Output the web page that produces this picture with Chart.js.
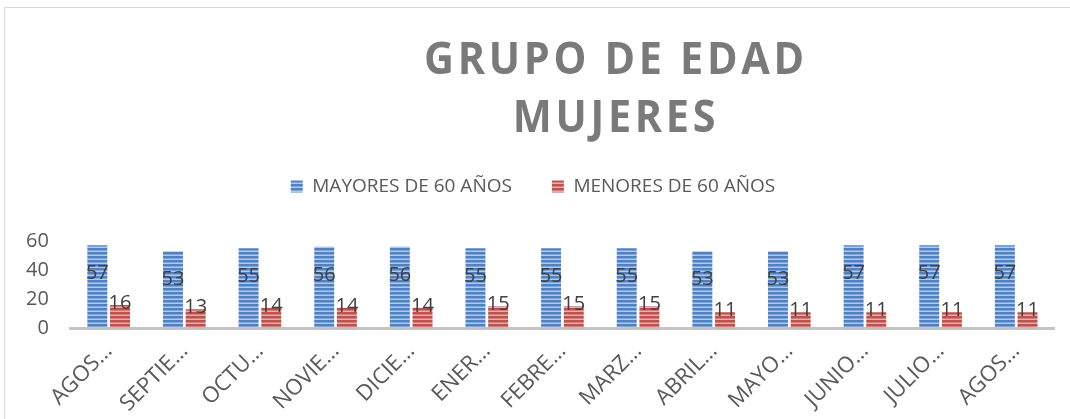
<!DOCTYPE html>
<html>
<head>
<meta charset="utf-8">
<script src="https://cdn.jsdelivr.net/npm/chart.js@4.4.1/dist/chart.umd.min.js"></script>
<style>
  html, body { margin: 0; padding: 0; background: #fff; overflow: hidden; }
  #wrap { position: relative; width: 1070px; height: 419px; }
  #marco { position: absolute; left: 4px; top: 7px; width: 1100px; height: 450px; border: 1px solid #d9d9d9; pointer-events: none; }
</style>
</head>
<body>
<div id="wrap"><canvas id="edadChart" width="1070" height="419"></canvas><div id="marco"></div></div>
<script>
var meses = ['AGOS…', 'SEPTIE…', 'OCTU…', 'NOVIE…', 'DICIE…', 'ENER…', 'FEBRE…', 'MARZ…', 'ABRIL…', 'MAYO…', 'JUNIO…', 'JULIO…', 'AGOS…'];
var mayores60 = [57, 53, 55, 56, 56, 55, 55, 55, 53, 53, 57, 57, 57];
var menores60 = [16, 13, 14, 14, 14, 15, 15, 15, 11, 11, 11, 11, 11];
var yTicks = [0, 20, 40, 60];
var tituloLineas = ['GRUPO DE EDAD', 'MUJERES'];

var FONT = "'Open Sans', sans-serif";

// striped fill like the excel pattern
function stripes(dark, light) {
    var c = document.createElement('canvas');
    c.width = 4; c.height = 4;
    var g = c.getContext('2d');
    g.fillStyle = light; g.fillRect(0, 0, 4, 4);
    g.fillStyle = dark; g.fillRect(0, 0, 4, 2.5);
    return g.createPattern(c, 'repeat');
}

var azul = stripes('#4f81c7', '#b3c9ea');
var rojo = stripes('#c0504d', '#e6aeac');

var tituloPlugin = {
    id: 'tituloPlugin',
    afterDraw: function (chart) {
        var ctx = chart.ctx;
        ctx.save();
        ctx.fillStyle = '#7a7a7a';
        ctx.font = 'bold 45px ' + FONT;
        ctx.letterSpacing = '4px';
        ctx.textAlign = 'center';
        ctx.textBaseline = 'alphabetic';
        // narrower glyphs, closer to the original title face
        ctx.translate(616, 0);
        ctx.scale(0.92, 1);
        ctx.fillText(tituloLineas[0], 0, 74);
        ctx.fillText(tituloLineas[1], 0, 132);
        ctx.restore();
    }
};

var etiquetasPlugin = {
    id: 'etiquetasPlugin',
    afterDatasetsDraw: function (chart) {
        var ctx = chart.ctx;
        ctx.save();
        ctx.font = '20px ' + FONT;
        ctx.fillStyle = '#404040';
        ctx.textAlign = 'center';
        ctx.textBaseline = 'middle';
        chart.data.datasets.forEach(function (ds, i) {
            var meta = chart.getDatasetMeta(i);
            meta.data.forEach(function (bar, j) {
                var off = i === 0 ? 28 : -2;
                ctx.fillText(ds.data[j], bar.x, bar.y + off);
            });
        });
        ctx.restore();
    }
};

var legendMargin = {
    id: 'legendMargin',
    beforeInit: function (chart) {
        var fit = chart.legend.fit;
        chart.legend.fit = function () {
            fit.bind(chart.legend)();
            this.height += 35;
        };
    }
};

var ctx = document.getElementById('edadChart').getContext('2d');
var chartInstance = new Chart(ctx, {
    type: 'bar',
    data: {
        labels: meses,
        datasets: [{
            label: 'MAYORES DE 60 AÑOS',
            data: mayores60,
            backgroundColor: azul,
            borderWidth: 0
        }, {
            label: 'MENORES DE 60 AÑOS',
            data: menores60,
            backgroundColor: rojo,
            borderWidth: 0
        }]
    },
    options: {
        responsive: false,
        animation: false,
        layout: { padding: { top: 137, left: 12, right: 16, bottom: 0 } },
        categoryPercentage: 0.6,
        barPercentage: 0.88,
        scales: {
            y: {
                min: 0,
                max: 60,
                afterBuildTicks: function (axis) {
                    axis.ticks = yTicks.map(function (v) { return { value: v }; });
                },
                grid: { display: false },
                border: { display: false },
                ticks: { color: '#595959', font: { family: FONT, size: 20 }, padding: 14, autoSkip: false }
            },
            x: {
                grid: { display: false },
                border: { display: true, color: '#c4c4c4', width: 3 },
                ticks: {
                    color: '#595959',
                    font: { family: FONT, size: 22 },
                    minRotation: 45,
                    maxRotation: 45,
                    autoSkip: false,
                    padding: 2
                }
            }
        },
        plugins: {
            title: { display: false },
            tooltip: { enabled: false },
            legend: {
                position: 'top',
                labels: {
                    color: '#595959',
                    font: { family: FONT, size: 19 },
                    boxWidth: 12,
                    boxHeight: 12,
                    padding: 40
                }
            }
        }
    },
    plugins: [tituloPlugin, etiquetasPlugin, legendMargin]
});
</script>
</body>
</html>
